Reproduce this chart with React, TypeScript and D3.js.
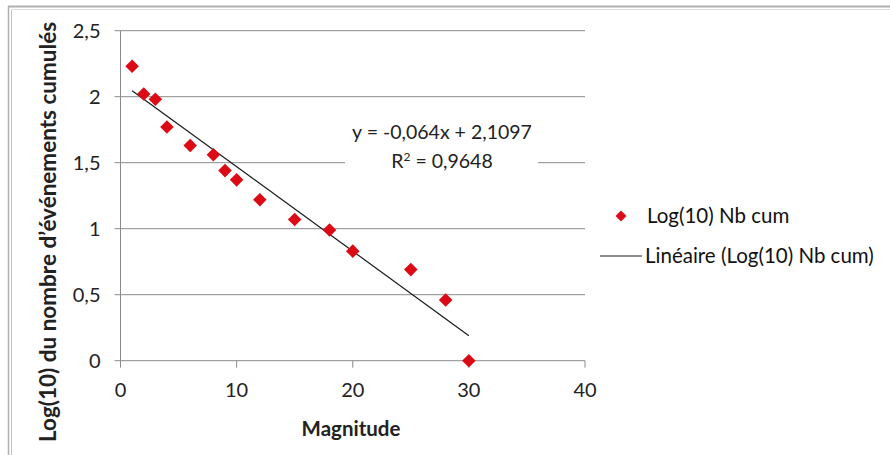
import React from "react";
import * as d3 from "d3";

const magnitudes = [1, 2, 3, 4, 6, 8, 9, 10, 12, 15, 18, 20, 25, 28, 30];
const logCum = [2.23, 2.02, 1.98, 1.77, 1.63, 1.56, 1.44, 1.37, 1.22, 1.07, 0.99, 0.83, 0.69, 0.46, 0];
const xTicks = [0, 10, 20, 30, 40];
const yTicks = [0, 0.5, 1, 1.5, 2, 2.5];
const slope = -0.064;
const intercept = 2.1097;
const equationText = "y = -0,064x + 2,1097";
const r2Value = "0,9648";
const legendSeries = "Log(10) Nb cum";
const legendTrend = "Linéaire (Log(10) Nb cum)";
const xTitle = "Magnitude";
const yTitle = "Log(10) du nombre d\u2019événements cumulés";

const W = 890;
const H = 455;
const FONT = "Lato, 'Open Sans', sans-serif";
const GRID = "#8a8a8a";
const RED = "#dc0a14";

export default function App() {
  const x = d3.scaleLinear().domain([0, 40]).range([120.5, 585]);
  const y = d3.scaleLinear().domain([0, 2.5]).range([360.7, 30.7]);
  const fmt = (v: number) => String(v).replace(".", ",");
  const diamond = d3.symbol(d3.symbolSquare, 92)();
  const trendX = [d3.min(magnitudes)!, d3.max(magnitudes)!];
  const line = d3
    .line<number>()
    .x((d) => x(d))
    .y((d) => y(slope * d + intercept));

  return (
    <svg
      width={W}
      height={H}
      style={{ position: "absolute", left: 0, top: 0, background: "#fff" }}
      fontFamily={FONT}
    >
      <rect x={0} y={0} width={W} height={H} fill="#fff" />
      {/* outer border */}
      <line x1={8} x2={W} y1={6.5} y2={6.5} stroke="#b0b0b0" strokeWidth={2} />
      <line x1={8.5} x2={8.5} y1={6} y2={H} stroke="#b0b0b0" strokeWidth={1.5} />
      <line x1={11.5} x2={11.5} y1={9} y2={H} stroke="#c4c4c4" strokeWidth={1} />
      <line x1={11} x2={W} y1={9.5} y2={9.5} stroke="#dcdcdc" strokeWidth={1} />

      {/* horizontal gridlines */}
      {yTicks.map((t) => (
        <line
          key={"g" + t}
          x1={x(0) - 6}
          x2={x(40)}
          y1={y(t)}
          y2={y(t)}
          stroke={GRID}
          strokeWidth={1}
        />
      ))}
      {/* y axis */}
      <line x1={x(0)} x2={x(0)} y1={y(2.5)} y2={y(0)} stroke={GRID} strokeWidth={1} />
      {/* x ticks */}
      {xTicks.map((t) => (
        <line
          key={"xt" + t}
          x1={x(t)}
          x2={x(t)}
          y1={y(0)}
          y2={y(0) + 7}
          stroke={GRID}
          strokeWidth={1}
        />
      ))}
      {/* tick labels */}
      {xTicks.map((t) => (
        <text
          key={"xl" + t}
          x={x(t)}
          y={y(0) + 36}
          textAnchor="middle"
          fontSize={20}
          fill="#222"
        >
          {t}
        </text>
      ))}
      {yTicks.map((t) => (
        <text
          key={"yl" + t}
          x={x(0) - 20}
          y={y(t) + 7}
          textAnchor="end"
          fontSize={20}
          fill="#222"
        >
          {fmt(t)}
        </text>
      ))}

      {/* equation label */}
      <rect x={345} y={114} width={193} height={60} fill="#fff" />
      <text x={442} y={139} textAnchor="middle" fontSize={19.5} fill="#222">
        {equationText}
      </text>
      <text x={442} y={168} textAnchor="middle" fontSize={19.5} fill="#222">
        R
        <tspan dy={-7} fontSize={12}>
          2
        </tspan>
        <tspan dy={7}>{" = " + r2Value}</tspan>
      </text>

      {/* trend line */}
      <path d={line(trendX) || ""} fill="none" stroke="#1a1a1a" strokeWidth={1.2} />

      {/* points */}
      {magnitudes.map((m, i) => (
        <path
          key={"p" + i}
          d={diamond || ""}
          transform={`translate(${x(m)},${y(logCum[i])}) rotate(45)`}
          fill={RED}
        />
      ))}

      {/* legend */}
      <path d={d3.symbol(d3.symbolSquare, 60)() || ""} transform="translate(621,216) rotate(45)" fill={RED} />
      <text x={647} y={223} fontSize={20.5} fill="#111">
        {legendSeries}
      </text>
      <line x1={600} x2={642} y1={256} y2={256} stroke="#1a1a1a" strokeWidth={1.2} />
      <text x={645} y={263} fontSize={20.5} fill="#111">
        {legendTrend}
      </text>

      {/* axis titles */}
      <text x={351} y={436} textAnchor="middle" fontSize={20.5} fontWeight={700} fill="#222">
        {xTitle}
      </text>
      <text
        transform="translate(56,232) rotate(-90)"
        textAnchor="middle"
        fontSize={22.5}
        fontWeight={700}
        fill="#222"
      >
        {yTitle}
      </text>
    </svg>
  );
}
